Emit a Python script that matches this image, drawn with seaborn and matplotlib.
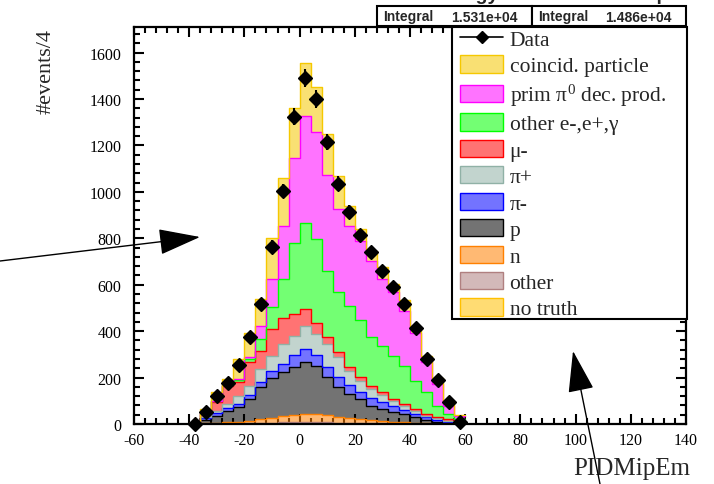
import numpy as np
import pandas as pd
import matplotlib
matplotlib.use("Agg")
import matplotlib.pyplot as plt
from matplotlib.patches import Patch, Rectangle, FancyArrowPatch
from matplotlib.lines import Line2D
from matplotlib.ticker import MultipleLocator
from matplotlib.colors import to_rgba
import seaborn as sns

# bins of width 4 in PIDMipEm
bin_edges = [-40, -36, -32, -28, -24, -20, -16, -12, -8, -4, 0, 4, 8, 12,
             16, 20, 24, 28, 32, 36, 40, 44, 48, 52, 56, 60]
bin_centers = [-38, -34, -30, -26, -22, -18, -14, -10, -6, -2, 2, 6, 10, 14,
               18, 22, 26, 30, 34, 38, 42, 46, 50, 54, 58]

data_counts = [0, 53, 122, 175, 254, 373, 516, 764, 1003, 1323, 1489, 1400, 1215,
               1035, 912, 812, 741, 659, 588, 519, 412, 280, 190, 93, 8]

# MC components (legend order = top of the stack first)
coincid = [1, 18, 36, 24, 85, 104, 114, 179, 208, 215, 230, 193, 176, 140, 86, 49,
           42, 54, 35, 48, 22, 27, 28, 21, 4]
prim_pi0 = [0, 1, 2, 3, 7, 10, 57, 122, 229, 367, 459, 462, 411, 358, 343, 340,
            328, 287, 273, 236, 208, 129, 93, 36, 12]
other_eg = [0, 2, 2, 2, 6, 12, 51, 93, 169, 307, 372, 359, 287, 262, 266, 249,
            212, 201, 186, 165, 121, 93, 50, 23, 17]
mu_minus = [1, 14, 39, 79, 60, 103, 78, 115, 110, 93, 75, 50, 29, 21, 15, 15, 13,
            12, 10, 10, 9, 7, 5, 5, 2]
pi_plus = [0, 5, 11, 19, 35, 39, 54, 66, 85, 84, 97, 89, 99, 84, 62, 48, 37, 28,
           20, 14, 12, 6, 6, 5, 1]
pi_minus = [1, 5, 10, 10, 15, 18, 25, 28, 38, 52, 58, 48, 44, 45, 38, 30, 34, 30,
            26, 20, 16, 12, 8, 4, 1]
proton = [1, 16, 31, 50, 62, 94, 138, 173, 189, 204, 220, 207, 163, 126, 103, 87,
          63, 54, 43, 35, 23, 15, 8, 5, 1]
neutron = [0, 2, 3, 5, 7, 10, 15, 21, 26, 32, 37, 35, 31, 26, 21, 17, 13, 9, 7, 5,
           4, 2, 2, 1, 0]
other = [0, 1, 2, 2, 3, 4, 5, 6, 7, 8, 8, 8, 7, 6, 5, 4, 3, 3, 2, 2, 1, 1, 0, 0, 0]
no_truth = [0, 0, 0, 0, 0, 0, 0, 0, 0, 0, 0, 0, 0, 0, 0, 0, 0, 0, 0, 0, 0, 0, 0, 0, 0]

comp_names = ["coincid. particle", "prim \u03c0$^{0}$ dec. prod.", "other e-,e+,\u03b3",
              "\u03bc-", "\u03c0+", "\u03c0-", "p", "n", "other", "no truth"]
comp_values = [coincid, prim_pi0, other_eg, mu_minus, pi_plus, pi_minus, proton,
               neutron, other, no_truth]
comp_colors = ["#f5c800", "#ff00ff", "#00ff00", "#ff0000", "#90b1a6", "#0000ff",
               "#000000", "#ff8000", "#b08080", "#ffc000"]
fill_alpha = 0.55

sns.set_theme(style="ticks")
plt.rcParams["font.family"] = ["Liberation Serif", "DejaVu Serif"]
plt.rcParams["mathtext.fontset"] = "custom"
plt.rcParams["mathtext.rm"] = "Liberation Serif"
plt.rcParams["mathtext.it"] = "Liberation Serif:italic"
plt.rcParams["axes.unicode_minus"] = False

# long table for seaborn
rows = []
for name, vals in zip(comp_names, comp_values):
    for c, v in zip(bin_centers, vals):
        rows.append((c, v, name))
df = pd.DataFrame(rows, columns=["PIDMipEm", "n", "comp"])
palette = dict(zip(comp_names, comp_colors))

W, H = 714, 485
def fx(px):
    return px / W
def fy(py):
    return 1 - py / H

fig = plt.figure(figsize=(W / 100, H / 100), dpi=100)
ax = fig.add_axes([fx(134), fy(425), fx(686) - fx(134), fy(28) - fy(425)])

# filled stack + coloured outlines
sns.histplot(data=df, x="PIDMipEm", weights="n", hue="comp", hue_order=comp_names,
             multiple="stack", bins=bin_edges, element="step", fill=True,
             alpha=fill_alpha, linewidth=0, palette=palette, legend=False, ax=ax)
sns.histplot(data=df, x="PIDMipEm", weights="n", hue="comp", hue_order=comp_names,
             multiple="stack", bins=bin_edges, element="step", fill=False,
             linewidth=1.0, palette=palette, legend=False, ax=ax)

ax.errorbar(bin_centers, data_counts, yerr=np.sqrt(data_counts), fmt="D",
            color="black", ms=7, elinewidth=1.5, capsize=0, zorder=5, clip_on=False)

ax.set_xlim(-60, 140)
ax.set_ylim(0, 1710)
ax.set_xlabel("")
ax.set_ylabel("")
ax.xaxis.set_major_locator(MultipleLocator(20))
ax.xaxis.set_minor_locator(MultipleLocator(4))
ax.yaxis.set_major_locator(MultipleLocator(200))
ax.yaxis.set_minor_locator(MultipleLocator(40))
ax.tick_params(which="both", direction="in", top=True, right=True, width=1.5,
               color="black", labelsize=11.5, labelcolor="black")
ax.tick_params(which="major", length=7.5)
ax.tick_params(which="minor", length=4)
ax.tick_params(axis="y", pad=9)
ax.tick_params(axis="x", pad=6)
for s in ax.spines.values():
    s.set_linewidth(1.6)
    s.set_color("black")

fig.text(fx(46), fy(72), "#events/4", rotation=90, ha="center", va="center", fontsize=16)
fig.text(fx(690), fy(469), "PIDMipEm", ha="right", va="center", fontsize=18)

# legend box
fig.add_artist(Rectangle((fx(452), fy(320)), fx(687) - fx(452), fy(28) - fy(320),
                         transform=fig.transFigure, facecolor="white",
                         edgecolor="black", lw=1.5, zorder=6))
handles = [Line2D([], [], color="black", marker="D", ms=6.5, lw=1.2)]
for c in comp_colors:
    handles.append(Patch(facecolor=to_rgba(c, fill_alpha), edgecolor=c, lw=1))
leg = fig.legend(handles, ["Data"] + comp_names, loc="upper left",
                 bbox_to_anchor=(fx(460), fy(30)), frameon=False, fontsize=15.5,
                 handlelength=2.0, handleheight=0.85, handletextpad=0.3,
                 labelspacing=0.25, borderpad=0, borderaxespad=0)
leg.set_zorder(10)

# stat boxes
for x0, x1, val in [(377, 532, "1.531e+04"), (532, 686, "1.486e+04")]:
    fig.add_artist(Rectangle((fx(x0), fy(27)), fx(x1) - fx(x0), fy(7) - fy(27),
                             transform=fig.transFigure, facecolor="white",
                             edgecolor="black", lw=1.5, zorder=6))
    fig.text(fx(x0 + 6), fy(17), "Integral", ha="left", va="center", fontsize=10,
             fontweight="bold", family="Liberation Sans", zorder=7)
    fig.text(fx(x1 - 14), fy(18), val, ha="right", va="center", fontsize=10,
             fontweight="bold", family="Liberation Sans", zorder=7)

# title, mostly cut off at the top edge as in the original
fig.text(fx(668), 1.0, "Total energy in the stack comp", ha="right", va="baseline",
         fontsize=14, fontweight="bold", family="Liberation Sans")

# arrows
for a, b in [((0, 262), (200, 238)), ((600, 485), (573, 352))]:
    fig.add_artist(FancyArrowPatch(posA=(fx(a[0]), fy(a[1])), posB=(fx(b[0]), fy(b[1])),
                                   transform=fig.transFigure,
                                   arrowstyle="-|>,head_length=0.8,head_width=0.25",
                                   mutation_scale=33, color="black", lw=1,
                                   shrinkA=0, shrinkB=0, zorder=8))

fig.savefig("out.png", dpi=100)
